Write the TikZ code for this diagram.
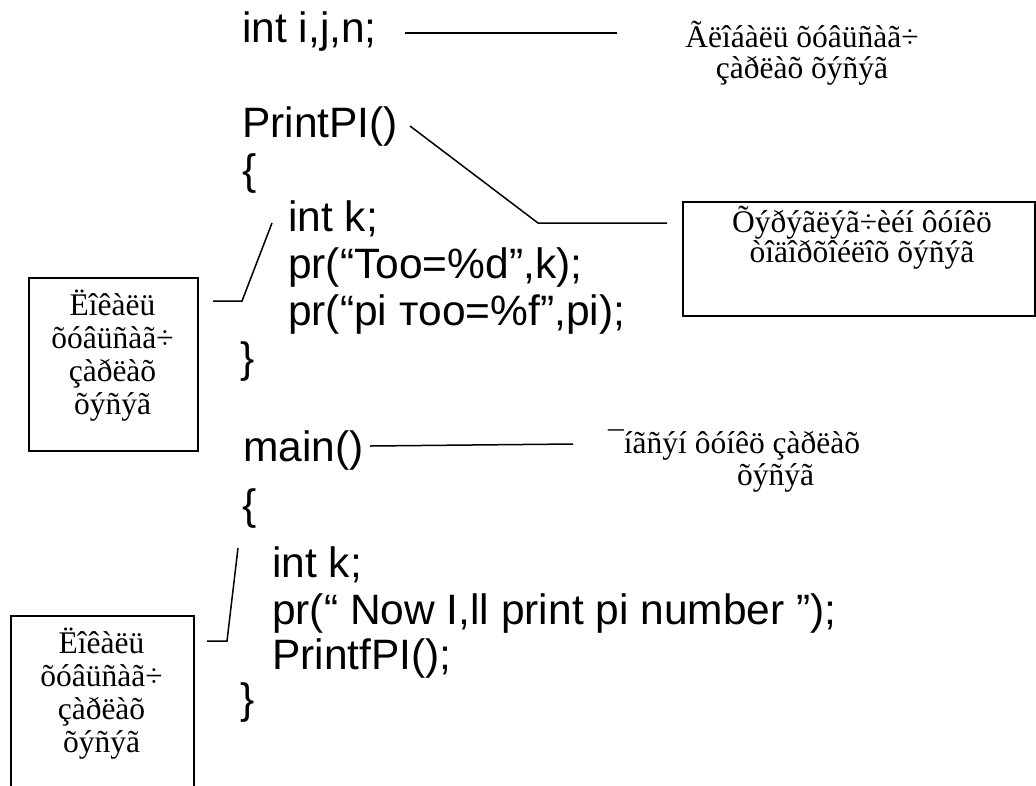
\documentclass[tikz,border=0pt]{standalone}
\usepackage{fontspec}
\setmainfont{Liberation Serif}
\newfontfamily\codefont{Liberation Sans}
\begin{document}
\begin{tikzpicture}[x=1pt,y=-1pt,
  code/.style={font=\codefont\fontsize{42.5}{47}\selectfont, inner sep=0pt, anchor=base west},
  note/.style={font=\fontsize{31.5}{31}\selectfont, inner sep=0pt, anchor=base},
  notew/.style={note, anchor=base west},
  frame/.style={draw, line width=1.5pt, inner sep=0pt, anchor=north west},
  link/.style={line width=1.5pt}]
\path[use as bounding box] (0,0) rectangle (1036,785);

% ---- program text ----
\node[code] (c1)  at (242,42)  {int i,j,n;};
\node[code] (c2)  at (242,137) {PrintPI()};
\node[code] (c3)  at (242,184) {\{};
\node[code] (c4)  at (288,231) {int k;};
\node[code] (c5)  at (288,278) {pr(“Too=\%d”,k);};
\node[code] (c6)  at (288,325) {pr(“pi тoo=\%f”,pi);};
\node[code] (c7)  at (240,372) {\}};
\node[code] (c8)  at (243,461) {main()};
\node[code] (c9)  at (242,519) {\{};
\node[code] (c10) at (272,577) {int k;};
\node[code] (c11) at (272,624) {pr(“ Now I,ll print pi number ”);};
\node[code] (c12) at (272,669) {PrintfPI();};
\node[code] (c13) at (240,713) {\}};

% ---- frames ----
\node[frame, minimum width=169pt, minimum height=173pt] (box1) at (28,277) {};
\node[frame, minimum width=352pt, minimum height=114pt] (box2) at (682,201) {};
\node[frame, minimum width=183pt, minimum height=200pt] (box3) at (10,615) {};

% ---- notes ----
\node[note] (n1a) at (802,47) {Ãëîáàëü õóâüñàã÷};
\node[note] (n1b) at (802,78) {çàðëàõ õýñýã};

\node[note] (n2a) at (862,232) {Õýðýãëýã÷èéí ôóíêö};
\node[note] (n2b) at (862,262) {òîäîðõîéëîõ õýñýã};

\node[note] (n3a) at (112.5,315) {Ëîêàëü};
\node[note] (n3b) at (112.5,348) {õóâüñàã÷};
\node[note] (n3c) at (112.5,381) {çàðëàõ};
\node[note] (n3d) at (112.5,414) {õýñýã};

\node[notew] (n4a) at (608,453) {¯íãñýí ôóíêö çàðëàõ};
\node[notew] (n4b) at (737,485) {õýñýã};

\node[note] (n5a) at (101.5,653) {Ëîêàëü};
\node[note] (n5b) at (101.5,686) {õóâüñàã÷};
\node[note] (n5c) at (101.5,719) {çàðëàõ};
\node[note] (n5d) at (101.5,752) {õýñýã};

% ---- leader lines ----
\coordinate (g1) at (405,33);
\coordinate (g2) at (617,33);
\draw[link] (g1) -- (g2);

\coordinate (p1) at (410,126);
\coordinate (p2) at (538,223);
\coordinate (p3) at (667,223);
\draw[link] (p1) -- (p2) -- (p3);

\coordinate (k1) at (272,223);
\coordinate (k2) at (242,301);
\coordinate (k3) at (213,301);
\draw[link] (k1) -- (k2) -- (k3);

\coordinate (m1) at (370,446);
\coordinate (m2) at (573,444);
\draw[link] (m1) -- (m2);

\coordinate (q1) at (238,548);
\coordinate (q2) at (227,641);
\coordinate (q3) at (207,641);
\draw[link] (q1) -- (q2) -- (q3);
\end{tikzpicture}
\end{document}
